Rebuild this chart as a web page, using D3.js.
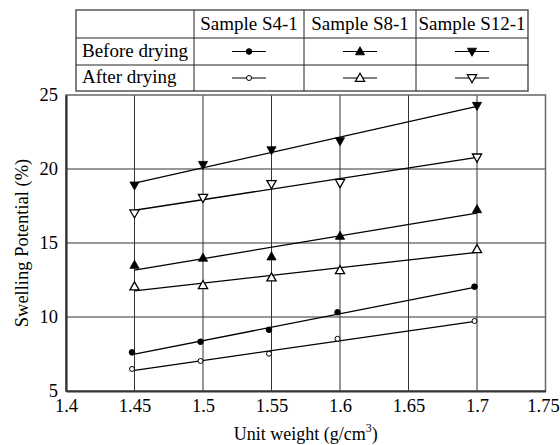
<!DOCTYPE html>
<html>
<head>
<meta charset="utf-8">
<script src="https://cdn.jsdelivr.net/npm/d3@7"></script>
<style>
  body { margin: 0; background: #fff; }
  svg { display: block; }
  svg text { font-family: "Liberation Serif", "Times New Roman", serif !important; fill: #000; }
</style>
</head>
<body>
<div id="graf"></div>
<script>
// datos
unitWeight = [1.45, 1.5, 1.55, 1.6, 1.7]
s4Before  = [7.61, 8.33, 9.14, 10.32, 12.05]
s4After   = [6.49, 7.03, 7.52, 8.53, 9.73]
s8Before  = [13.51, 13.99, 14.08, 15.47, 17.27]
s8After   = [12.05, 12.14, 12.66, 13.15, 14.57]
s12Before = [18.90, 20.29, 21.28, 21.89, 24.28]
s12After  = [17.01, 18.06, 18.99, 19.07, 20.79]

xTicks = [1.4, 1.45, 1.5, 1.55, 1.6, 1.65, 1.7, 1.75]
yTicks = [5, 10, 15, 20, 25]
sampleNames = ['Sample S4-1', 'Sample S8-1', 'Sample S12-1']
rowNames = ['Before drying', 'After drying']

series = [
  { values: s4Before,  shape: 'circle', filled: true },
  { values: s4After,   shape: 'circle', filled: false },
  { values: s8Before,  shape: 'up',     filled: true },
  { values: s8After,   shape: 'up',     filled: false },
  { values: s12Before, shape: 'down',   filled: true },
  { values: s12After,  shape: 'down',   filled: false }
]

// I. Configuracion
ancho_total = 560
alto_total = 445
plot = { left: 66, right: 545.5, top: 95, bottom: 391 }

svg = d3.select('#graf').append('svg')
  .attr('width', ancho_total)
  .attr('height', alto_total)

x = d3.scaleLinear().domain([1.4, 1.75]).range([plot.left, plot.right])
y = d3.scaleLinear().domain([5, 25]).range([plot.bottom, plot.top])

// rejilla
grid = svg.append('g')
grid.selectAll('.vg')
  .data(xTicks.slice(1, -1))
  .enter().append('line')
    .attr('x1', d => x(d)).attr('x2', d => x(d))
    .attr('y1', plot.top).attr('y2', plot.bottom)
    .attr('stroke', '#333').attr('stroke-width', 1)
grid.selectAll('.hg')
  .data(yTicks.slice(1, -1))
  .enter().append('line')
    .attr('x1', plot.left).attr('x2', plot.right)
    .attr('y1', d => y(d)).attr('y2', d => y(d))
    .attr('stroke', '#333').attr('stroke-width', 1)

// marco
svg.append('rect')
  .attr('x', plot.left).attr('y', plot.top)
  .attr('width', plot.right - plot.left).attr('height', plot.bottom - plot.top)
  .attr('fill', 'none').attr('stroke', '#666').attr('stroke-width', 1.5)

// ejes
xAxisGroup = svg.append('g')
  .attr('transform', `translate(0, ${plot.bottom})`)
  .call(d3.axisBottom(x).tickValues(xTicks).tickSize(0).tickPadding(8).tickFormat(d => d))
yAxisGroup = svg.append('g')
  .attr('transform', `translate(${plot.left}, 0)`)
  .call(d3.axisLeft(y).tickValues(yTicks).tickSize(0).tickPadding(8))

svg.selectAll('.domain').attr('stroke', '#333').attr('stroke-width', 2.2)
svg.selectAll('.tick text').attr('font-size', 18.5)
// la ultima etiqueta toca el borde, la recorremos un poco
xAxisGroup.selectAll('.tick text').filter(d => d == 1.75).attr('dx', -2.5)

// titulos de ejes
xTitle = svg.append('text')
  .attr('x', (plot.left + plot.right) / 2)
  .attr('y', 440)
  .attr('text-anchor', 'middle')
  .attr('font-size', 18)
xTitle.append('tspan').text('Unit weight (g/cm')
xTitle.append('tspan').attr('dy', -8).attr('font-size', 12).text('3')
xTitle.append('tspan').attr('dy', 8).text(')')

svg.append('text')
  .attr('transform', `translate(28, ${(plot.top + plot.bottom) / 2}) rotate(-90)`)
  .attr('text-anchor', 'middle')
  .attr('font-size', 18.5)
  .text('Swelling Potential (%)')

// marcadores
function marker(sel, shape, filled) {
  if (shape == 'circle') {
    sel.append('circle')
      .attr('r', filled ? 2.8 : 2.5)
      .attr('fill', filled ? '#000' : '#fff')
      .attr('stroke', '#000').attr('stroke-width', 1)
  } else {
    h = 4.3
    path = shape == 'up'
      ? `M0,${-h - 0.5}L${h + 0.3},${h - 1}L${-h - 0.3},${h - 1}Z`
      : `M0,${h + 0.5}L${h + 0.3},${-h + 1}L${-h - 0.3},${-h + 1}Z`
    sel.append('path')
      .attr('d', path)
      .attr('fill', filled ? '#000' : '#fff')
      .attr('stroke', '#000').attr('stroke-width', filled ? 0.8 : 1.3)
  }
}

// lineas de tendencia (minimos cuadrados)
function fit(values) {
  mx = d3.mean(unitWeight)
  my = d3.mean(values)
  sxy = d3.sum(unitWeight, (u, i) => (u - mx) * (values[i] - my))
  sxx = d3.sum(unitWeight, u => (u - mx) * (u - mx))
  b = sxy / sxx
  return u => my + b * (u - mx)
}

xMin = d3.min(unitWeight)
xMax = d3.max(unitWeight)
series.forEach(s => {
  f = fit(s.values)
  svg.append('line')
    .attr('x1', x(xMin)).attr('y1', y(f(xMin)))
    .attr('x2', x(xMax)).attr('y2', y(f(xMax)))
    .attr('stroke', '#000').attr('stroke-width', 1.3)
})

series.forEach(s => {
  pts = svg.append('g').selectAll('g')
    .data(unitWeight.map((u, i) => ({ u: u, v: s.values[i] })))
    .enter().append('g')
      .attr('transform', d => `translate(${x(d.u) - (s.shape == 'circle' ? 2.5 : 0)}, ${y(d.v)})`)
  marker(pts, s.shape, s.filled)
})

// tabla de leyenda
colX = [76, 194, 304, 416, 528]
rowY = [10, 38, 65, 91]
tabla = svg.append('g')
tabla.append('rect')
  .attr('x', colX[0]).attr('y', rowY[0])
  .attr('width', colX[4] - colX[0]).attr('height', rowY[3] - rowY[0])
  .attr('fill', '#fff').attr('stroke', '#555').attr('stroke-width', 1.5)
colX.slice(1, -1).forEach(cx => {
  tabla.append('line').attr('x1', cx).attr('x2', cx)
    .attr('y1', rowY[0]).attr('y2', rowY[3])
    .attr('stroke', '#222').attr('stroke-width', 1)
})
rowY.slice(1, -1).forEach(ry => {
  tabla.append('line').attr('x1', colX[0]).attr('x2', colX[4])
    .attr('y1', ry).attr('y2', ry)
    .attr('stroke', '#222').attr('stroke-width', 1)
})
sampleNames.forEach((n, i) => {
  tabla.append('text')
    .attr('x', (colX[i + 1] + colX[i + 2]) / 2)
    .attr('y', rowY[1] - 8.5)
    .attr('text-anchor', 'middle')
    .attr('font-size', 19)
    .text(n)
})
rowNames.forEach((n, j) => {
  tabla.append('text')
    .attr('x', colX[0] + 6)
    .attr('y', rowY[j + 2] - 7.7)
    .attr('font-size', 19)
    .text(n)
  sampleNames.forEach((s, i) => {
    sr = series[i * 2 + j]
    cx = (colX[i + 1] + colX[i + 2]) / 2
    cy = (rowY[j + 1] + rowY[j + 2]) / 2
    tabla.append('line')
      .attr('x1', cx - 17).attr('x2', cx + 17)
      .attr('y1', cy).attr('y2', cy)
      .attr('stroke', '#000').attr('stroke-width', 1.2)
    m = tabla.append('g').attr('transform', `translate(${cx}, ${cy})`)
    marker(m, sr.shape, sr.filled)
  })
})
</script>
</body>
</html>
